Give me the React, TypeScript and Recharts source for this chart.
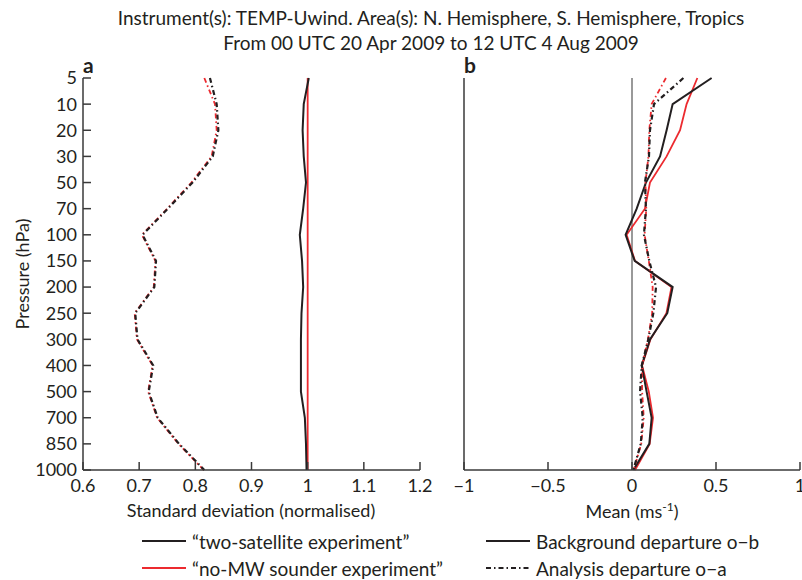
import React from 'react';
import { LineChart, Line, XAxis, YAxis, ReferenceLine } from 'recharts';

// pressure levels (hPa), top of the profile first
const levels = ['5', '10', '20', '30', '50', '70', '100', '150', '200', '250', '300', '400', '500', '700', '850', '1000'];

// panel a: standard deviation (normalised)
const sdTwoSatOb = [1.002, 0.993, 0.991, 0.993, 0.997, 0.992, 0.986, 0.99, 0.992, 0.989, 0.988, 0.988, 0.988, 0.995, 0.997, 0.998];
const sdNoMwOb = [1, 1, 1, 1, 1, 1, 1, 1, 1, 1, 1, 1, 1, 1, 1, 1];
const sdTwoSatOa = [0.826, 0.838, 0.841, 0.831, 0.795, 0.751, 0.706, 0.73, 0.727, 0.693, 0.697, 0.725, 0.717, 0.733, 0.771, 0.816];
const sdNoMwOa = [0.816, 0.835, 0.838, 0.829, 0.793, 0.75, 0.705, 0.729, 0.726, 0.692, 0.696, 0.724, 0.716, 0.732, 0.77, 0.815];

// panel b: mean (m/s)
const meanTwoSatOb = [0.474, 0.242, 0.206, 0.167, 0.083, 0.028, -0.038, 0.016, 0.242, 0.21, 0.107, 0.058, 0.087, 0.117, 0.103, 0.008];
const meanNoMwOb = [0.389, 0.325, 0.286, 0.206, 0.107, 0.077, -0.032, 0.018, 0.235, 0.205, 0.11, 0.06, 0.1, 0.125, 0.105, 0.018];
const meanTwoSatOa = [0.306, 0.131, 0.107, 0.101, 0.077, 0.083, 0.071, 0.103, 0.143, 0.127, 0.097, 0.058, 0.048, 0.064, 0.052, 0.008];
const meanNoMwOa = [0.202, 0.117, 0.103, 0.098, 0.08, 0.085, 0.075, 0.1, 0.123, 0.12, 0.095, 0.06, 0.06, 0.07, 0.055, 0.01];

const sdTicks = [0.6, 0.7, 0.8, 0.9, 1, 1.1, 1.2];
const meanTicks = [-1, -0.5, 0, 0.5, 1];

const sdData = levels.map((p, i) => ({
  p,
  twoOb: sdTwoSatOb[i],
  noOb: sdNoMwOb[i],
  twoOa: sdTwoSatOa[i],
  noOa: sdNoMwOa[i],
}));

const meanData = levels.map((p, i) => ({
  p,
  twoOb: meanTwoSatOb[i],
  noOb: meanNoMwOb[i],
  twoOa: meanTwoSatOa[i],
  noOa: meanNoMwOa[i],
}));

const BLACK = '#231f20';
const RED = '#ec2a2f';
const AXIS = '#3a3a3a';
const DASHDOT = '5 3 1.5 3';
const FONT = 'Lato, "Open Sans", sans-serif';

const tickStyle = { fontSize: 18, fill: '#231f20', fontFamily: FONT };

const fmtMean = (v: number) => (v < 0 ? '\u2212' + Math.abs(v) : String(v));

const Profile: React.FC<{
  data: any[];
  width: number;
  yWidth: number;
  right: number;
  domain: [number, number];
  ticks: number[];
  fmt?: (v: number) => string;
  showLevels: boolean;
  zeroLine?: boolean;
}> = ({ data, width, yWidth, right, domain, ticks, fmt, showLevels, zeroLine }) => (
  <LineChart
    layout="vertical"
    width={width}
    height={510}
    data={data}
    margin={{ top: 78, right, bottom: 0, left: 0 }}
  >
    <XAxis
      type="number"
      domain={domain}
      ticks={ticks}
      interval={0}
      allowDataOverflow
      tickFormatter={fmt}
      tickSize={-8}
      tickMargin={17}
      height={40}
      tick={tickStyle}
      stroke={AXIS}
      strokeWidth={1.5}
    />
    <XAxis
      xAxisId="top"
      orientation="top"
      type="number"
      domain={domain}
      height={0}
      tick={false}
      tickLine={false}
      stroke={AXIS}
      strokeWidth={1.5}
    />
    <YAxis
      type="category"
      dataKey="p"
      scale="point"
      interval={0}
      width={yWidth}
      tickSize={-8}
      tickMargin={14}
      tick={showLevels ? tickStyle : false}
      stroke={AXIS}
      strokeWidth={1.5}
    />
    <YAxis
      yAxisId="right"
      orientation="right"
      type="number"
      domain={[0, 1]}
      width={0}
      tick={false}
      tickLine={false}
      stroke={AXIS}
      strokeWidth={1.5}
    />
    {zeroLine && <ReferenceLine x={0} stroke="#555" strokeWidth={1.2} />}
    <Line dataKey="noOb" stroke={RED} strokeWidth={1.8} dot={false} isAnimationActive={false} />
    <Line dataKey="twoOb" stroke={BLACK} strokeWidth={2} dot={false} isAnimationActive={false} />
    <Line dataKey="noOa" stroke={RED} strokeWidth={1.8} strokeDasharray={DASHDOT} dot={false} isAnimationActive={false} />
    <Line dataKey="twoOa" stroke={BLACK} strokeWidth={2.2} strokeDasharray={DASHDOT} dot={false} isAnimationActive={false} />
  </LineChart>
);

const LegendRow: React.FC<{ x: number; y: number; color: string; dash?: string; label: string }> = ({ x, y, color, dash, label }) => (
  <div style={{ position: 'absolute', left: x, top: y - 12, height: 24, display: 'flex', alignItems: 'center', whiteSpace: 'nowrap' }}>
    <svg width={44} height={6} style={{ marginRight: 6 }}>
      <line x1={0} y1={3} x2={44} y2={3} stroke={color} strokeWidth={2} strokeDasharray={dash} />
    </svg>
    <span style={{ fontSize: 19 }}>{label}</span>
  </div>
);

export default function App() {
  return (
    <div style={{ position: 'absolute', left: 0, top: 0, width: 802, height: 580, background: '#fff', fontFamily: FONT, color: '#231f20' }}>
      <div style={{ position: 'absolute', left: 0, width: 862, top: 5, textAlign: 'center', fontSize: 19, lineHeight: '25px' }}>
        Instrument(s): TEMP-Uwind. Area(s): N. Hemisphere, S. Hemisphere, Tropics
        <br />
        From 00 UTC 20 Apr 2009 to 12 UTC 4 Aug 2009
      </div>

      <div style={{ position: 'absolute', left: 0, top: 0 }}>
        <Profile data={sdData} width={440} yWidth={83} right={20} domain={[0.6, 1.2]} ticks={sdTicks} showLevels />
      </div>
      <div style={{ position: 'absolute', left: 440, top: 0 }}>
        <Profile data={meanData} width={362} yWidth={24} right={2} domain={[-1, 1]} ticks={meanTicks} fmt={fmtMean} showLevels={false} zeroLine />
      </div>

      <div style={{ position: 'absolute', left: 83, top: 52, fontSize: 21, fontWeight: 700 }}>a</div>
      <div style={{ position: 'absolute', left: 464, top: 52, fontSize: 21, fontWeight: 700 }}>b</div>

      <div style={{ position: 'absolute', left: 22, top: 274, transform: 'translate(-50%, -50%) rotate(-90deg)', fontSize: 18, whiteSpace: 'nowrap' }}>
        Pressure (hPa)
      </div>

      <div style={{ position: 'absolute', left: 251, top: 510, transform: 'translate(-50%, -50%)', fontSize: 18, whiteSpace: 'nowrap' }}>
        Standard deviation (normalised)
      </div>
      <div style={{ position: 'absolute', left: 632, top: 510, transform: 'translate(-50%, -50%)', fontSize: 18, whiteSpace: 'nowrap' }}>
        Mean (ms<sup style={{ fontSize: 12 }}>-1</sup>)
      </div>

      <LegendRow x={142} y={541} color={BLACK} label={'\u201ctwo-satellite experiment\u201d'} />
      <LegendRow x={142} y={568} color={RED} label={'\u201cno-MW sounder experiment\u201d'} />
      <LegendRow x={486} y={541} color={BLACK} label={'Background departure o\u2212b'} />
      <LegendRow x={486} y={568} color={BLACK} dash={DASHDOT} label={'Analysis departure o\u2212a'} />
    </div>
  );
}
